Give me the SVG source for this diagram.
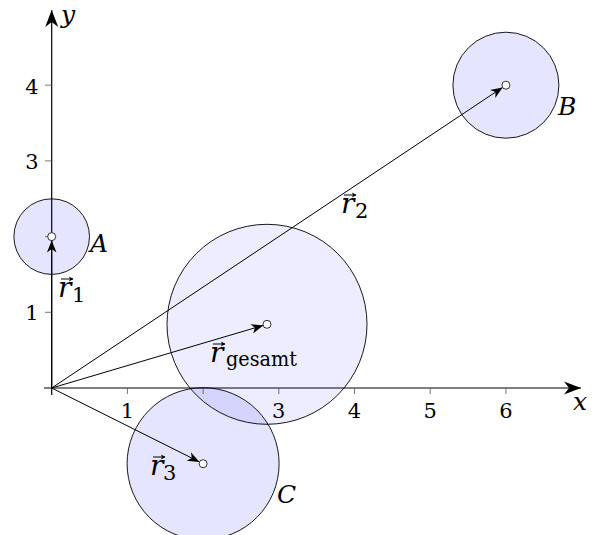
<svg xmlns="http://www.w3.org/2000/svg" width="601" height="535" viewBox="0 0 601 535">
<style>
text{font-family:"DejaVu Serif",serif;fill:#000}
.ax{stroke:#000;stroke-width:1.2;fill:none}
.tk{stroke:#555;stroke-width:0.8}
.num{font-size:21px}
.lbl{font-style:italic;font-size:25px}
.rv{font-style:italic;font-size:28px}
.sub{font-style:normal;font-size:21px}
.body{fill:#0000ff;fill-opacity:0.1;stroke:#000;stroke-width:0.9}
.vec{stroke:#000;stroke-width:1;fill:none;marker-end:url(#vh)}
.acc{stroke:#000;stroke-width:1;fill:none;marker-end:url(#sh)}
.pt{fill:#fff;stroke:#000;stroke-width:0.8}
</style>
<defs>
<marker id="ah" markerUnits="userSpaceOnUse" viewBox="-17 -7 18 14" refX="0" refY="0" markerWidth="18" markerHeight="14" orient="auto">
<path d="M0,0 L-17,-6.5 L-12,0 L-17,6.5 Z" fill="#000"/>
</marker>
<marker id="vh" markerUnits="userSpaceOnUse" viewBox="-12 -6 13 12" refX="0" refY="0" markerWidth="13" markerHeight="12" orient="auto">
<path d="M0,0 L-12,-4.8 L-8.5,0 L-12,4.8 Z" fill="#000"/>
</marker>
<marker id="sh" markerUnits="userSpaceOnUse" viewBox="-5 -3 6 6" refX="0" refY="0" markerWidth="6" markerHeight="6" orient="auto">
<path d="M0.5,0 L-4,-2.6 L-3,0 L-4,2.6 Z" fill="#000"/>
</marker>
</defs>
<g id="axes">
<line class="ax" x1="44" y1="388" x2="581" y2="388" marker-end="url(#ah)"/>
<line class="ax" x1="51.7" y1="395" x2="51.7" y2="10" marker-end="url(#ah)"/>
<g class="tk">
<line x1="127.4" y1="388" x2="127.4" y2="394"/>
<line x1="203.1" y1="388" x2="203.1" y2="394"/>
<line x1="278.8" y1="388" x2="278.8" y2="394"/>
<line x1="354.5" y1="388" x2="354.5" y2="394"/>
<line x1="430.2" y1="388" x2="430.2" y2="394"/>
<line x1="505.9" y1="388" x2="505.9" y2="394"/>
<line x1="45" y1="312.3" x2="51.7" y2="312.3"/>
<line x1="45" y1="236.6" x2="51.7" y2="236.6"/>
<line x1="45" y1="160.9" x2="51.7" y2="160.9"/>
<line x1="45" y1="85.2" x2="51.7" y2="85.2"/>
</g>
<g text-anchor="middle">
<text class="num" x="127.4" y="418">1</text>
<text class="num" x="278.8" y="418">3</text>
<text class="num" x="354.5" y="418">4</text>
<text class="num" x="430.2" y="418">5</text>
<text class="num" x="505.9" y="418">6</text>
</g>
<g text-anchor="end">
<text class="num" x="38.5" y="320">1</text>
<text class="num" x="38.5" y="169">3</text>
<text class="num" x="38.5" y="94">4</text>
</g>
<text class="lbl" x="573" y="410">x</text>
<text class="lbl" x="61" y="23">y</text>
</g>
<g id="bodyA"><circle class="body" cx="51.7" cy="236.6" r="37.8"/></g>
<g id="bodyB"><circle class="body" cx="505.9" cy="85.2" r="53"/></g>
<g id="bodyC"><circle class="body" cx="203.1" cy="463.7" r="76"/></g>
<g id="bodyG"><circle class="body" style="fill-opacity:0.07" cx="267" cy="324.3" r="100"/></g>
<g id="connectors">
<line class="vec" x1="51.7" y1="388" x2="51.7" y2="240.6"/>
<line class="vec" x1="51.7" y1="388" x2="502.6" y2="87.4"/>
<line class="vec" x1="51.7" y1="388" x2="199.5" y2="461.9"/>
<line class="vec" x1="51.7" y1="388" x2="263.2" y2="325.4"/>
</g>
<g id="points">
<circle class="pt" cx="51.7" cy="236.6" r="4"/>
<circle class="pt" cx="505.9" cy="85.2" r="4"/>
<circle class="pt" cx="203.1" cy="463.7" r="4"/>
<circle class="pt" cx="267" cy="324.3" r="4"/>
</g>
<g id="labels">
<text class="lbl" x="90" y="252">A</text>
<text class="lbl" x="558" y="115">B</text>
<text class="lbl" x="277" y="503">C</text>
<text class="rv" x="58" y="297">r<tspan class="sub" x="72" dy="5">1</tspan></text>
<text class="rv" x="341" y="213">r<tspan class="sub" x="355" dy="5">2</tspan></text>
<text class="rv" x="150" y="475">r<tspan class="sub" x="163" dy="5">3</tspan></text>
<text class="rv" x="210" y="362">r<tspan class="sub" x="226" dy="4" textLength="71" lengthAdjust="spacingAndGlyphs">gesamt</tspan></text>
<g class="acc">
<line x1="61" y1="279" x2="73" y2="279"/>
<line x1="344" y1="195" x2="356" y2="195"/>
<line x1="153" y1="457" x2="165" y2="457"/>
<line x1="213" y1="344" x2="225" y2="344"/>
</g>
</g>
</svg>
